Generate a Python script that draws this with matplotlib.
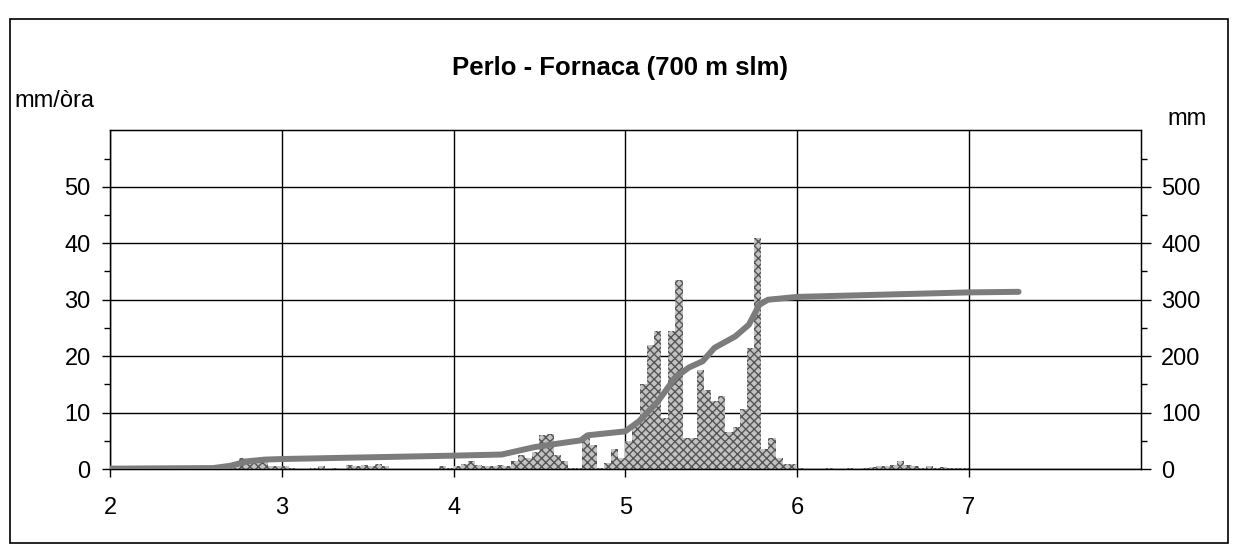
import numpy as np
import matplotlib
matplotlib.use("Agg")
import matplotlib.pyplot as plt
from matplotlib.patches import Rectangle
import matplotlib.ticker as mticker

plt.rcParams['font.family'] = ['Liberation Sans', 'DejaVu Sans']

title = 'Perlo - Fornaca (700 m slm)'

# hourly rain (mm/ora), first hour starts at day 2 + 14/24
rain_start_hour = 14
rain = [0.3, 0.5, 0.5, 1.0, 2.0, 1.8, 2.0, 1.5, 0.5, 0.5,      # h14-23
        0.5, 0.3, 0.0, 0.0, 0.3, 0.5, 0.0, 0.3, 0.0, 0.8,      # h24-33
        0.5, 0.8, 0.6, 1.0, 0.5, 0.0, 0.0, 0.0, 0.0, 0.0,      # h34-43
        0.0, 0.0, 0.6, 0.3, 0.5, 1.0, 1.5, 0.8, 0.5, 0.5,      # h44-53
        0.8, 0.5, 1.4, 2.5, 2.0, 3.0, 6.0, 6.3, 2.6, 1.4,      # h54-63
        0.2, 0.2, 6.0, 4.2, 0.2, 1.1, 3.5, 2.0, 5.0, 8.0,      # h64-73
        15.0, 22.0, 24.5, 9.0, 24.5, 33.5, 5.5, 5.5, 17.5, 14.0,  # h74-83
        12.0, 13.0, 6.5, 7.4, 10.6, 21.5, 41.0, 3.5, 5.6, 2.0,  # h84-93
        0.9, 0.9, 0.3, 0.0, 0.0, 0.0, 0.3, 0.0, 0.0, 0.3,      # h94-103
        0.0, 0.3, 0.4, 0.5, 0.5, 0.8, 1.5, 0.8, 0.5, 0.3,      # h104-113
        0.5, 0.3, 0.4, 0.3, 0.3, 0.3]                          # h114-119

# cumulative rain (mm)
cum_day = [2.0, 2.6, 2.7, 2.8, 2.9, 3.0, 3.5, 4.0, 4.28, 4.47, 4.6, 4.74, 4.78,
           5.0, 5.08, 5.19, 5.29, 5.37, 5.45, 5.52, 5.64, 5.72, 5.78, 5.83,
           6.0, 6.5, 7.0, 7.29]
cum_mm = [1, 2, 6, 14, 17, 18, 21, 24, 26, 39, 45, 51, 60,
          67, 85, 120, 162, 180, 191, 215, 235, 256, 291, 300,
          305, 309, 313, 314]

fig = plt.figure(figsize=(12.37, 5.52), dpi=100)
ax = fig.add_axes([0.089, 0.150, 0.833, 0.614])

hours = rain_start_hour + np.arange(len(rain))
days = 2 + hours / 24.0
ax.bar(days, rain, width=1/24.0, align='edge', facecolor='#c2c2c2',
       edgecolor='#555555', hatch='xxxx', linewidth=0, zorder=2)

ax.set_xlim(2, 8)
ax.set_ylim(0, 60)
ax.set_xticks([2, 3, 4, 5, 6, 7])
ax.set_yticks([0, 10, 20, 30, 40, 50])
ax.yaxis.set_minor_locator(mticker.FixedLocator([5, 15, 25, 35, 45, 55]))
ax.grid(True, which='major', color='black', linewidth=1.0, zorder=1)
ax.set_axisbelow(True)
ax.tick_params(axis='y', which='major', length=6, width=1, pad=8, labelsize=17)
ax.tick_params(axis='y', which='minor', length=4, width=1)
ax.tick_params(axis='x', which='major', length=6, width=1, pad=14, labelsize=17)
for s in ax.spines.values():
    s.set_linewidth(1.0)

ax2 = ax.twinx()
ax2.plot(cum_day, cum_mm, color='#7c7c7c', linewidth=4.3, solid_capstyle='round',
         solid_joinstyle='round', zorder=3)
ax2.set_ylim(0, 600)
ax2.set_yticks([0, 100, 200, 300, 400, 500])
ax2.yaxis.set_minor_locator(mticker.FixedLocator([50, 150, 250, 350, 450, 550]))
ax2.tick_params(axis='y', which='major', length=7, width=1, pad=8, labelsize=17)
ax2.tick_params(axis='y', which='minor', length=4, width=1)

fig.text(0.501, 0.877, title, ha='center', va='center', fontsize=18.5, fontweight='bold')
fig.text(0.012, 0.817, 'mm/òra', ha='left', va='center', fontsize=17)
fig.text(0.944, 0.785, 'mm', ha='left', va='center', fontsize=17)

# outer frame
fig.patches.append(Rectangle((0.008, 0.016), 0.985, 0.95, transform=fig.transFigure,
                             fill=False, edgecolor='black', linewidth=1.2))

fig.savefig('out.png', dpi=100)
